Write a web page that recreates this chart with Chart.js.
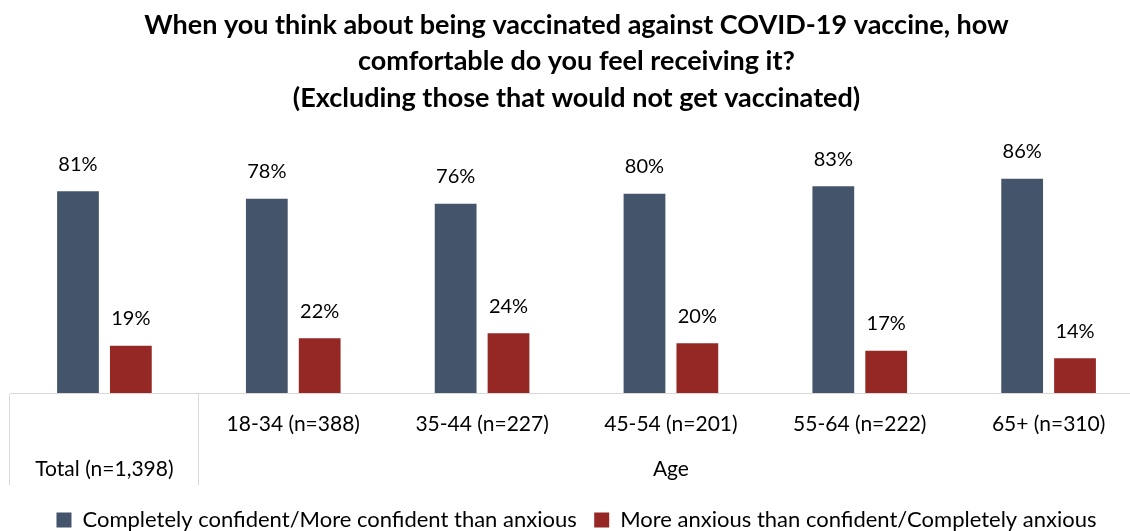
<!DOCTYPE html>
<html>
<head>
<meta charset="utf-8">
<script src="https://cdn.jsdelivr.net/npm/chart.js@4"></script>
<style>
  html, body { margin: 0; padding: 0; background: #fff; overflow: hidden; }
  #wrap { width: 1160px; height: 541px; }
</style>
</head>
<body>
<div id="wrap"><canvas id="chart" width="1160" height="541"></canvas></div>
<script>
// two-row category labels: age bands on top, group names underneath
const categories = [
    ['', 'Total (n=1,398)'],
    ['18-34 (n=388)', ''],
    ['35-44 (n=227)', ''],
    ['45-54 (n=201)', 'Age'],
    ['55-64 (n=222)', ''],
    ['65+ (n=310)', '']
];
const confident = [81, 78, 76, 80, 83, 86];
const anxious = [19, 22, 24, 20, 17, 14];
const seriesNames = [
    'Completely confident/More confident than anxious',
    'More anxious than confident/Completely anxious'
];
const titleLines = [
    'When you think about being vaccinated against COVID-19 vaccine, how',
    'comfortable do you feel receiving it?',
    '(Excluding those that would not get vaccinated)'
];

const FONT = 'Lato';
const BLUE = '#44546a';
const RED = '#952824';
const LINE = '#d9d9d9';

// percentage labels above each bar
const valueLabels = {
    id: 'valueLabels',
    afterDatasetsDraw(chart) {
        const ctx = chart.ctx;
        ctx.save();
        ctx.font = `20px ${FONT}`;
        ctx.fillStyle = '#000';
        ctx.textAlign = 'center';
        ctx.textBaseline = 'middle';
        chart.data.datasets.forEach((ds, i) => {
            chart.getDatasetMeta(i).data.forEach((bar, j) => {
                ctx.fillText(ds.data[j] + '%', bar.x, bar.y - 27);
            });
        });
        ctx.restore();
    }
};

new Chart(document.getElementById('chart'), {
    type: 'bar',
    data: {
        labels: categories,
        datasets: [
            { label: seriesNames[0], data: confident, backgroundColor: BLUE, borderWidth: 0 },
            { label: seriesNames[1], data: anxious, backgroundColor: RED, borderWidth: 0 }
        ]
    },
    options: {
        responsive: false,
        animation: false,
        barPercentage: 0.79,
        categoryPercentage: 0.56,
        layout: { padding: { left: 10, right: 17, top: 0, bottom: 0 } },
        plugins: {
            title: {
                display: true,
                text: titleLines,
                color: '#000',
                font: { family: FONT, size: 27, weight: 'bold', lineHeight: 36.5 / 27 },
                padding: { top: 7, bottom: 27.5 }
            },
            legend: {
                position: 'bottom',
                labels: {
                    color: '#000',
                    font: { family: FONT, size: 22 },
                    boxWidth: 15,
                    boxHeight: 15,
                    padding: 17.5
                }
            },
            tooltip: { enabled: false }
        },
        scales: {
            x: {
                offset: true,
                grid: {
                    offset: true,
                    drawOnChartArea: false,
                    tickLength: 92,
                    lineWidth: 1,
                    // separators only around the Total column
                    color: c => (c.index === 0 || c.index === 1) ? LINE : 'rgba(0,0,0,0)'
                },
                border: { color: LINE },
                ticks: {
                    padding: -83.5,
                    color: '#000',
                    maxRotation: 0,
                    autoSkip: false,
                    font: { family: FONT, size: 21, lineHeight: 45 / 21 }
                },
                // the negative padding shrinks the box, so fix its height
                afterFit(scale) { scale.height = 98.5; }
            },
            y: { display: false, min: 0, max: 100 }
        }
    },
    plugins: [valueLabels]
});
</script>
</body>
</html>
